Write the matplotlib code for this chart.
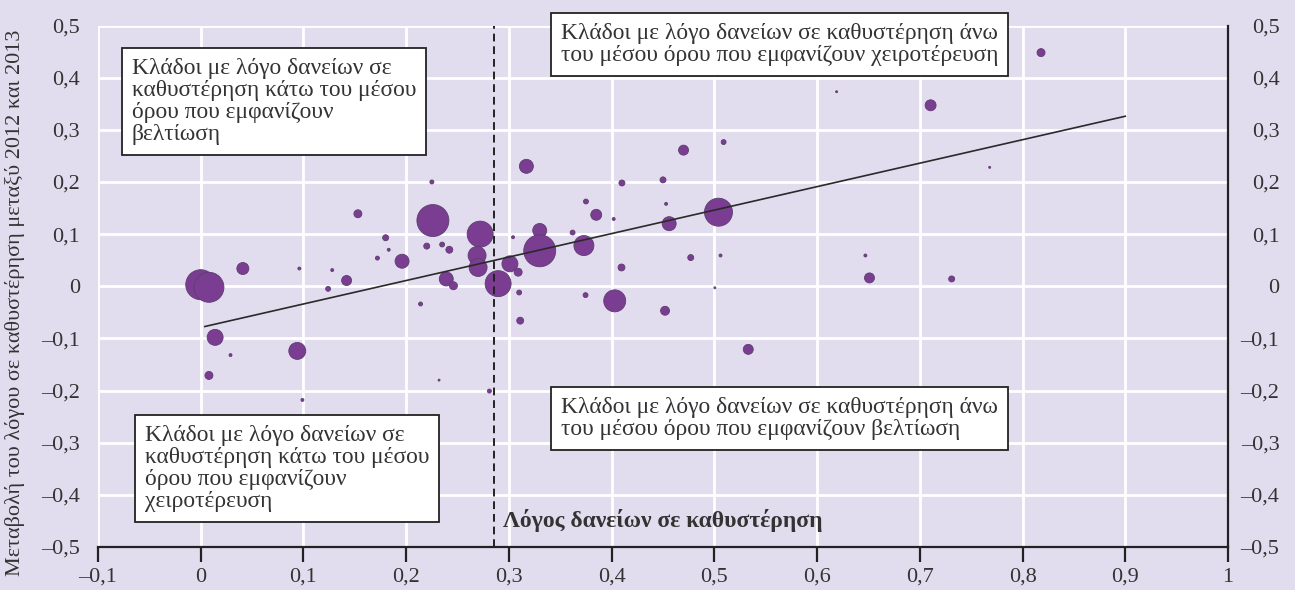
import matplotlib
matplotlib.use("Agg")
import matplotlib.pyplot as plt
import numpy as np

# ---- data ----
npl_ratio = [0.000, 0.008, 0.041, 0.096, 0.128, 0.124, 0.142, 0.172, 0.014, 0.029,
             0.094, 0.008, 0.099, 0.225, 0.153, 0.226, 0.180, 0.183, 0.196, 0.220,
             0.235, 0.242, 0.239, 0.246, 0.214, 0.317, 0.272, 0.269, 0.270, 0.2895,
             0.304, 0.301, 0.309, 0.310, 0.311, 0.232, 0.281, 0.410, 0.375, 0.385,
             0.402, 0.330, 0.330, 0.362, 0.373, 0.4096, 0.3746, 0.403, 0.619, 0.509,
             0.470, 0.450, 0.453, 0.504, 0.456, 0.477, 0.506, 0.5005, 0.452, 0.533,
             0.647, 0.651, 0.818, 0.7105, 0.768, 0.731]
npl_change = [0.003, -0.002, 0.034, 0.034, 0.031, -0.005, 0.011, 0.054, -0.098, -0.132,
              -0.124, -0.171, -0.218, 0.200, 0.139, 0.126, 0.093, 0.070, 0.048, 0.077,
              0.080, 0.070, 0.014, 0.001, -0.034, 0.230, 0.100, 0.059, 0.036, 0.005,
              0.094, 0.043, 0.027, -0.012, -0.066, -0.180, -0.201, 0.198, 0.1625, 0.137,
              0.129, 0.107, 0.068, 0.103, 0.078, 0.036, -0.017, -0.028, 0.373, 0.2765,
              0.261, 0.204, 0.158, 0.142, 0.120, 0.055, 0.059, -0.003, -0.047, -0.121,
              0.059, 0.016, 0.448, 0.347, 0.228, 0.014]
loan_weight = [225, 225, 36, 2.2, 2.2, 6, 25, 4, 64, 2.2,
               72, 16, 2.2, 4, 16, 256, 9, 2.2, 49, 9,
               6, 12, 49, 16, 4, 49, 169, 81, 81, 169,
               2.2, 64, 16, 6, 12, 1, 4, 9, 6, 30,
               2.2, 49, 256, 6, 100, 12, 6, 121, 1, 6,
               25, 9, 2.2, 196, 49, 9, 2.2, 1, 20, 25,
               2.2, 25, 16, 30, 1, 9]

trend_intercept = -0.079
trend_slope = 0.45
trend_x = [0.004, 0.9]
mean_ratio = 0.285

x_ticks = [-0.1, 0, 0.1, 0.2, 0.3, 0.4, 0.5, 0.6, 0.7, 0.8, 0.9, 1.0]
x_ticklabels = ["\u20130,1", "0", "0,1", "0,2", "0,3", "0,4", "0,5", "0,6", "0,7", "0,8", "0,9", "1"]
y_ticks = [0.5, 0.4, 0.3, 0.2, 0.1, 0, -0.1, -0.2, -0.3, -0.4, -0.5]
y_ticklabels = ["0,5", "0,4", "0,3", "0,2", "0,1", "0", "\u20130,1", "\u20130,2", "\u20130,3", "\u20130,4", "\u20130,5"]

y_label = "Μεταβολή του λόγου σε καθυστέρηση μεταξύ 2012 και 2013"
x_label = "Λόγος δανείων σε καθυστέρηση"
box_tl = "Κλάδοι με λόγο δανείων σε\nκαθυστέρηση κάτω του μέσου\nόρου που εμφανίζουν\nβελτίωση"
box_bl = "Κλάδοι με λόγο δανείων σε\nκαθυστέρηση κάτω του μέσου\nόρου που εμφανίζουν\nχειροτέρευση"
box_tr = "Κλάδοι με λόγο δανείων σε καθυστέρηση άνω\nτου μέσου όρου που εμφανίζουν χειροτέρευση"
box_br = "Κλάδοι με λόγο δανείων σε καθυστέρηση άνω\nτου μέσου όρου που εμφανίζουν βελτίωση"

# ---- style ----
BG = "#e2ddee"
TXT = "#333333"
FONT = ["Liberation Serif", "DejaVu Serif"]
plt.rcParams["font.family"] = FONT

fig = plt.figure(figsize=(12.95, 5.90), dpi=100, facecolor=BG)
ax = fig.add_axes([98 / 1295, 1 - 547 / 590, (1228 - 98) / 1295, (547 - 25.5) / 590])
ax.set_facecolor(BG)
ax.set_xlim(-0.1, 1.0)
ax.set_ylim(-0.5, 0.5)

ax.grid(True, color="white", linewidth=2, zorder=0)
ax.set_axisbelow(True)

for s in ["top", "left"]:
    ax.spines[s].set_visible(False)
ax.spines["bottom"].set_color("#222222")
ax.spines["bottom"].set_linewidth(1.6)
ax.spines["right"].set_color("#222222")
ax.spines["right"].set_linewidth(1.6)

ax.set_xticks(x_ticks)
ax.set_xticklabels(x_ticklabels)
ax.set_yticks(y_ticks)
ax.set_yticklabels(y_ticklabels)
ax.tick_params(axis="x", direction="out", length=11, width=1.6, color="#222222",
               pad=4, labelsize=16, labelcolor=TXT)
ax.tick_params(axis="y", length=0, pad=13, labelsize=16, labelcolor=TXT)

ax2 = ax.twinx()
ax2.set_ylim(ax.get_ylim())
ax2.set_yticks(y_ticks)
ax2.set_yticklabels(y_ticklabels)
ax2.tick_params(axis="y", length=0, pad=37, labelsize=16, labelcolor=TXT)
for lab in ax2.get_yticklabels():
    lab.set_horizontalalignment("right")
for s in ax2.spines.values():
    s.set_visible(False)

# bubbles
sizes = np.array(loan_weight) * 2.07
ax.scatter(npl_ratio, npl_change, s=sizes, facecolor="#7a3d92",
           edgecolor="#5d3d6e", linewidth=0.6, zorder=3)

# trend line
tx = np.array(trend_x)
ax.plot(tx, trend_intercept + trend_slope * tx, color="#2a2a2a", linewidth=1.2, zorder=4)

# mean line
ax.axvline(mean_ratio, color="#222222", linewidth=1.4, linestyle=(0, (4, 2.5)), zorder=4)

# annotations
bbox = dict(boxstyle="square,pad=0.42", facecolor="white", edgecolor="#222222", linewidth=1.3)
kw = dict(fontsize=16.9, ha="left", va="top", color=TXT, bbox=bbox,
          linespacing=1.06, zorder=6, clip_on=False)
ax.text(-0.067, 0.4375, box_tl, **kw)
ax.text(-0.0545, -0.266, box_bl, **kw)
ax.text(0.3505, 0.505, box_tr, **kw)
ax.text(0.3505, -0.2125, box_br, **kw)

ax.text(0.294, -0.449, x_label, fontsize=17, fontweight="bold", ha="left", va="center",
        color=TXT, zorder=6)

fig.text(15 / 1295, 1 - 303 / 590, y_label, rotation=90, fontsize=16, ha="center",
         va="center", color=TXT)

fig.savefig("out.png", dpi=100, facecolor=BG)
